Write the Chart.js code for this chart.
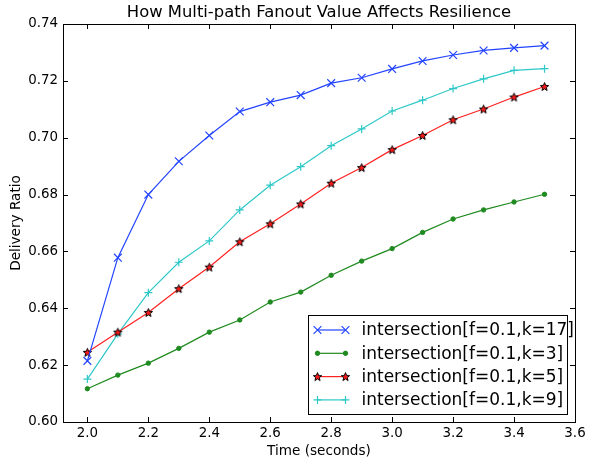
<!DOCTYPE html>
<html>
<head>
<meta charset="utf-8">
<script src="https://cdn.jsdelivr.net/npm/chart.js@4/dist/chart.umd.min.js"></script>
<style>
body{margin:0;background:#fff}
#wrap{width:589px;height:462px}
</style>
</head>
<body>
<div id="wrap"><canvas id="c" width="589" height="462"></canvas></div>
<script>

// data
let times=[2.0,2.1,2.2,2.3,2.4,2.5,2.6,2.7,2.8,2.9,3.0,3.1,3.2,3.3,3.4,3.5]

let k17=[0.6215,0.6578,0.6800,0.6917,0.7008,0.7092,0.7125,0.7150,0.7192,0.7211,0.7242,0.7270,0.7291,0.7307,0.7316,0.7324]
let k3=[0.6117,0.6165,0.6207,0.6259,0.6316,0.6359,0.6422,0.6457,0.6516,0.6566,0.6610,0.6667,0.6714,0.6746,0.6774,0.6801]
let k5=[0.6245,0.6316,0.6385,0.6469,0.6545,0.6634,0.6697,0.6767,0.6840,0.6895,0.6958,0.7008,0.7063,0.7101,0.7143,0.7180]
let k9=[0.6151,0.6310,0.6455,0.6562,0.6637,0.6746,0.6833,0.6898,0.6972,0.7031,0.7094,0.7132,0.7173,0.7207,0.7237,0.7243]

let seriesNames=["intersection[f=0.1,k=17]","intersection[f=0.1,k=3]","intersection[f=0.1,k=5]","intersection[f=0.1,k=9]"]

let xTicks=[2.0,2.2,2.4,2.6,2.8,3.0,3.2,3.4,3.6]
let yTicks=[0.60,0.62,0.64,0.66,0.68,0.70,0.72,0.74]

let chartTitle="How Multi-path Fanout Value Affects Resilience"

let FONT="'DejaVu Sans', sans-serif"

// filled red star with black edge, like matplotlib's '*' marker
function makeStar(){
let cv=document.createElement("canvas")
cv.width=11
cv.height=11
let g=cv.getContext("2d")
g.beginPath()
for(let i=0;i<10;i++){
let r=i%2==0?4.4:1.9
let a=-Math.PI/2+i*Math.PI/5
let px=5.5+r*Math.cos(a)
let py=5.9+r*Math.sin(a)
if(i==0) g.moveTo(px,py)
else g.lineTo(px,py)
}
g.closePath()
g.fillStyle="#ff1a1a"
g.fill()
g.lineWidth=1
g.strokeStyle="#000"
g.stroke()
return cv
}

let star=makeStar()

function pts(arr){
return arr.map((v,i)=>({x:times[i],y:v}))
}

let datasets=[
{label:seriesNames[0],data:pts(k17),borderColor:"#2244ff",pointStyle:"crossRot",pointRadius:5.5,pointBorderColor:"#2244ff",pointBorderWidth:1.2},
{label:seriesNames[1],data:pts(k3),borderColor:"#1f8a1f",backgroundColor:"#1f8a1f",pointStyle:"circle",pointRadius:2.2,pointBorderColor:"#1f8a1f",pointBorderWidth:1},
{label:seriesNames[2],data:pts(k5),borderColor:"#ff2020",pointStyle:star,pointRadius:4.5},
{label:seriesNames[3],data:pts(k9),borderColor:"#2ec8c8",pointStyle:"cross",pointRadius:4,pointBorderColor:"#2ec8c8",pointBorderWidth:1.2}
]

datasets.forEach(d=>{
d.borderWidth=1.2
d.fill=false
d.tension=0
d.pointHoverRadius=d.pointRadius
})

// title over the plot, frame, inward ticks and the boxed legend (matplotlib classic look)
let frameAndLegend={
id:"frameAndLegend",
afterDraw(chart){
let ctx=chart.ctx
let a=chart.chartArea
let xs=chart.scales.x
let ys=chart.scales.y
ctx.save()

ctx.fillStyle="#000"
ctx.font="16.4px "+FONT
ctx.textAlign="center"
ctx.textBaseline="middle"
ctx.fillText(chartTitle,(a.left+a.right)/2,12.5)
ctx.textAlign="left"

ctx.strokeStyle="#000"
ctx.lineWidth=1
ctx.beginPath()
xTicks.forEach(v=>{
let px=Math.round(xs.getPixelForValue(v))+0.5
ctx.moveTo(px,a.bottom)
ctx.lineTo(px,a.bottom-5)
ctx.moveTo(px,a.top)
ctx.lineTo(px,a.top+5)
})
yTicks.forEach(v=>{
let py=Math.round(ys.getPixelForValue(v))+0.5
ctx.moveTo(a.left,py)
ctx.lineTo(a.left+5,py)
ctx.moveTo(a.right,py)
ctx.lineTo(a.right-5,py)
})
ctx.stroke()
ctx.strokeRect(Math.round(a.left)+0.5,Math.round(a.top)+0.5,Math.round(a.right-a.left),Math.round(a.bottom-a.top))

// legend box
let bw=259
let bh=99
let bx=Math.round(a.right)-267+0.5
let by=Math.round(a.bottom)-107+0.5
ctx.fillStyle="#fff"
ctx.fillRect(bx,by,bw,bh)
ctx.strokeRect(bx,by,bw,bh)
ctx.font="17px "+FONT
ctx.textBaseline="middle"
chart.data.datasets.forEach((d,i)=>{
let cy=by+14.5+i*23.3
let x1=bx+9
let x2=bx+37
ctx.strokeStyle=d.borderColor
ctx.lineWidth=d.borderWidth
ctx.beginPath()
ctx.moveTo(x1,cy)
ctx.lineTo(x2,cy)
ctx.stroke()
let opt={pointStyle:d.pointStyle,radius:d.pointRadius,rotation:0,borderWidth:d.pointBorderWidth||1}
ctx.strokeStyle=d.pointBorderColor||d.borderColor
ctx.fillStyle=d.backgroundColor||d.borderColor
ctx.lineWidth=opt.borderWidth
Chart.helpers.drawPoint(ctx,opt,x1,cy)
Chart.helpers.drawPoint(ctx,opt,x2,cy)
ctx.fillStyle="#000"
ctx.fillText(d.label,bx+53,cy+1)
})
ctx.restore()
}
}

new Chart(document.getElementById("c"),{
type:"line",
data:{datasets:datasets},
options:{
responsive:false,
animation:false,
layout:{padding:{left:0,right:14,top:24,bottom:0}},
plugins:{
legend:{display:false},
tooltip:{enabled:false},
title:{display:false}
},
scales:{
x:{
type:"linear",
min:1.92,
max:3.6,
grid:{display:false,drawTicks:false},
border:{display:false},
afterBuildTicks(scale){
scale.ticks=xTicks.map(v=>({value:v}))
},
afterFit(scale){
scale.height=40
},
ticks:{
color:"#000",
padding:3,
maxRotation:0,
autoSkip:false,
font:{family:FONT,size:13.4},
callback:v=>v.toFixed(1)
},
title:{
display:true,
text:"Time (seconds)",
color:"#000",
font:{family:FONT,size:13.6},
padding:{top:0,bottom:2.5}
}
},
y:{
min:0.60,
max:0.74,
grid:{display:false,drawTicks:false},
border:{display:false},
afterBuildTicks(scale){
scale.ticks=yTicks.map(v=>({value:v}))
},
afterFit(scale){
scale.width=63
},
ticks:{
color:"#000",
padding:5,
autoSkip:false,
font:{family:FONT,size:13.4},
callback:v=>v.toFixed(2)
},
title:{
display:true,
text:"Delivery Ratio",
color:"#000",
font:{family:FONT,size:13.6},
padding:{top:8.5,bottom:0}
}
}
}
},
plugins:[frameAndLegend]
})

</script>
</body>
</html>
